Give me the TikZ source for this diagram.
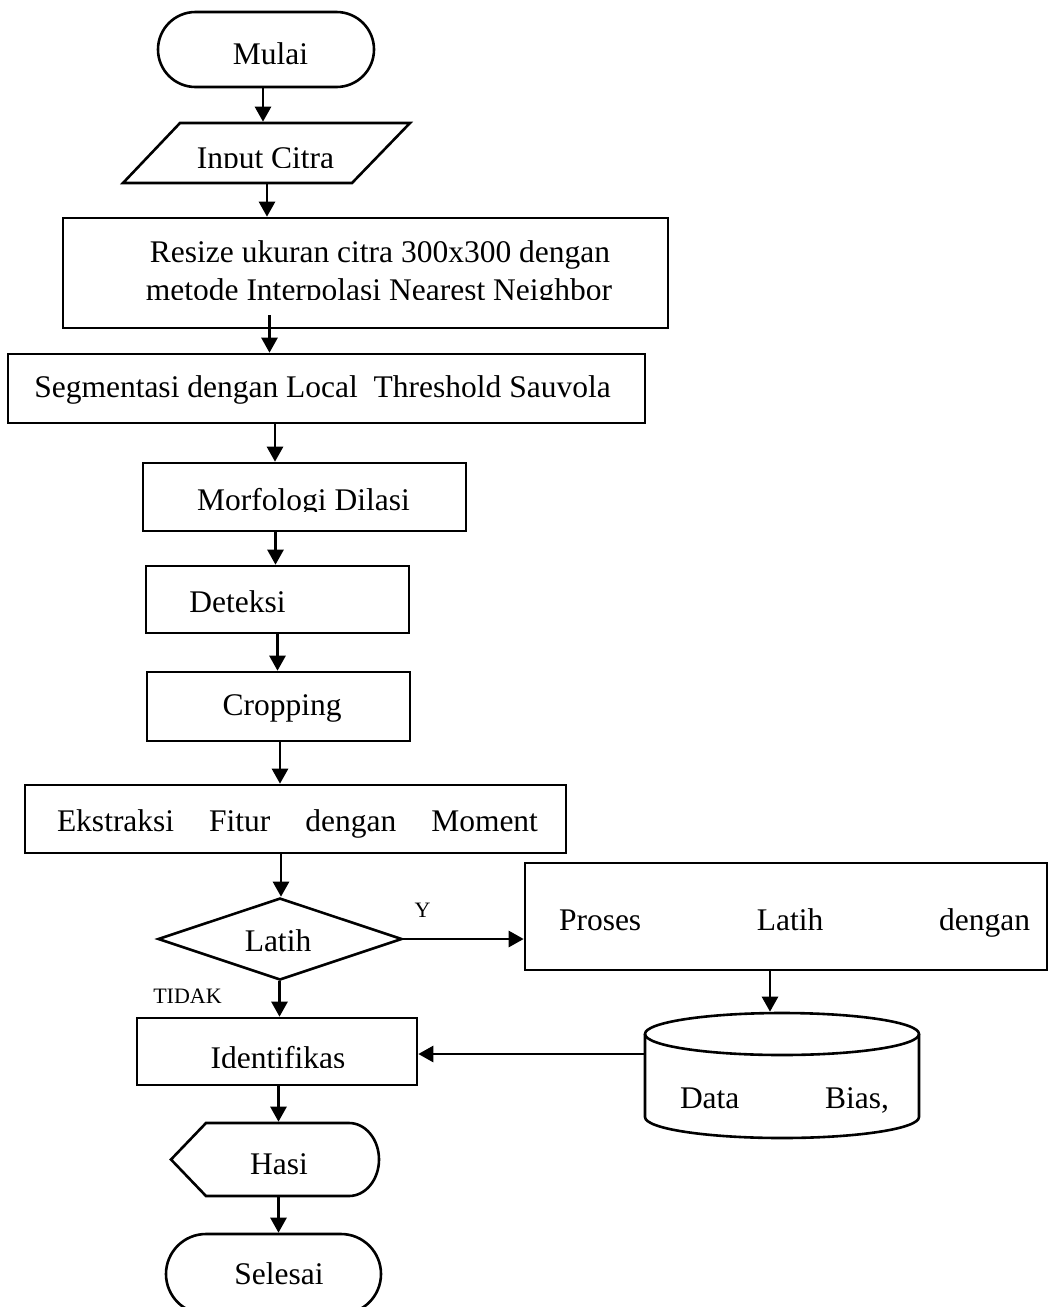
\documentclass[tikz,border=0pt]{standalone}
\usepackage{fontspec}
\setmainfont{Liberation Serif}
\usetikzlibrary{shapes.geometric,shapes.misc,arrows.meta}
\newcommand\mainfs{\fontsize{31.5}{40}\selectfont}
\newcommand\smallfs{\fontsize{22}{26}\selectfont}
\begin{document}
\begin{tikzpicture}[x=1pt,y=-1pt,
  line/.style={line width=2.6pt, line join=miter},
  box/.style={draw, line width=2.6pt, rectangle, inner sep=0pt},
  term/.style={draw, line width=2.6pt, rounded rectangle, inner sep=0pt},
  ghost/.style={rectangle, inner sep=0pt, outer sep=1.3pt},
  dec/.style={draw, line width=2.6pt, diamond, aspect=2.97, inner sep=0pt},
  lbl/.style={anchor=base, inner sep=0pt, font=\mainfs},
  small/.style={anchor=base, inner sep=0pt, font=\smallfs},
  arr/.style={line width=2.6pt, -{Triangle[length=15pt,width=16pt]}}]
\fill[white] (0,0) rectangle (1049,1307);
\useasboundingbox (0,0) rectangle (1049,1307);

% column coordinates for the vertical connectors
\coordinate (a1) at (263,0);
\coordinate (a2) at (267,0);
\coordinate (a3) at (269.5,315);
\coordinate (a4) at (275,0);
\coordinate (a5) at (275.5,0);
\coordinate (a6) at (277.5,0);
\coordinate (a7) at (280,0);
\coordinate (a8) at (281,0);
\coordinate (a9) at (279.5,0);
\coordinate (a10) at (278.5,0);
\coordinate (a11) at (278.5,0);
\coordinate (a12) at (770,0);
\coordinate (cy) at (0,1054);

% Mulai
\node[term, minimum width=216pt, minimum height=75pt] (mulai) at (266,49.5) {};
\node[lbl] (tmulai) at (270.5,64) {Mulai};

% Input Citra
\node[ghost, minimum width=230pt, minimum height=60pt] (input) at (266,153) {};
\draw[line] (180,123) -- (410,123) -- (352,183) -- (123,183) -- cycle;
\begin{scope}
  \clip (150,125) rectangle (400,167);
  \node[lbl] (tinput) at (265.5,168) {Input Citra};
\end{scope}

% Resize
\node[box, minimum width=605pt, minimum height=110pt] (resize) at (365.5,273) {};
\node[lbl] (tresizeA) at (380,262) {Resize ukuran citra 300x300 dengan};
\begin{scope}
  \clip (70,270) rectangle (660,299);
  \node[lbl] (tresizeB) at (379,300) {metode Interpolasi Nearest Neighbor};
\end{scope}

% Segmentasi
\node[box, minimum width=637pt, minimum height=69pt] (seg) at (326.5,388.5) {};
\node[lbl] (tseg) at (322.5,397) {Segmentasi dengan Local~~Threshold Sauvola};

% Morfologi
\node[box, minimum width=323pt, minimum height=68pt] (morf) at (304.5,497) {};
\begin{scope}
  \clip (150,470) rectangle (460,511);
  \node[lbl] (tmorf) at (303.5,510) {Morfologi Dilasi};
\end{scope}

% Deteksi
\node[box, minimum width=263pt, minimum height=67pt] (det) at (277.5,599.5) {};
\node[lbl] (tdet) at (237.5,612) {Deteksi};

% Cropping
\node[box, minimum width=263pt, minimum height=69pt] (crop) at (278.5,706.5) {};
\node[lbl] (tcrop) at (282,715) {Cropping};

% Ekstraksi
\node[box, minimum width=541pt, minimum height=68pt] (ekst) at (295.5,819) {};
\node[lbl] (tekst) at (297.5,831) {\makebox[481pt][s]{Ekstraksi Fitur dengan Moment}};

% Decision
\node[dec, minimum width=244pt, minimum height=82pt] (latih) at (280,939) {};
\node[lbl] (tlatih) at (278,951) {Latih};
\node[small] (ty) at (422.5,917) {Y};
\node[small] (ttidak) at (187.5,1003) {TIDAK};

% Proses Latih
\node[box, minimum width=522pt, minimum height=107pt] (proses) at (786,916.5) {};
\node[lbl] (tproses) at (794.5,930) {\makebox[471pt][s]{Proses Latih dengan}};

% Database cylinder
\node[ghost, minimum width=274pt, minimum height=125pt] (db) at (782,1075.5) {};
\draw[line] (645,1034) -- (645,1117)
  arc[start angle=180, end angle=360, x radius=137pt, y radius=21pt]
  -- (919,1034);
\draw[line] (782,1034) ellipse [x radius=137pt, y radius=21pt];
\node[lbl] (tdb) at (784.5,1108) {\makebox[209pt][s]{Data Bias,}};

% Identifikasi
\node[box, minimum width=280pt, minimum height=67pt] (ident) at (277,1051.5) {};
\begin{scope}
  \clip (145,1025) rectangle (410,1067);
  \node[lbl] (tident) at (278,1068) {Identifikas};
\end{scope}

% Hasil (display)
\node[ghost, minimum width=208pt, minimum height=73pt] (hasi) at (275,1159.5) {};
\draw[line] (171,1159.5) -- (206,1123) -- (349,1123)
  arc[start angle=90, end angle=-90, x radius=30pt, y radius=36.5pt]
  -- (206,1196) -- cycle;
\node[lbl] (thasi) at (279,1174) {Hasi};

% Selesai
\node[term, minimum width=215pt, minimum height=80pt] (selesai) at (273.5,1274) {};
\node[lbl] (tselesai) at (279,1284) {Selesai};

% connectors
\draw[arr] (mulai.south -| a1) -- (input.north -| a1);
\draw[arr] (input.south -| a2) -- (resize.north -| a2);
\draw[arr] (a3) -- (seg.north -| a3);
\draw[arr] (seg.south -| a4) -- (morf.north -| a4);
\draw[arr] (morf.south -| a5) -- (det.north -| a5);
\draw[arr] (det.south -| a6) -- (crop.north -| a6);
\draw[arr] (crop.south -| a7) -- (ekst.north -| a7);
\draw[arr] (ekst.south -| a8) -- (latih.north -| a8);
\draw[arr] (latih.east) -- (proses.west |- latih.east);
\draw[arr] (latih.south -| a9) -- (ident.north -| a9);
\draw[arr] (proses.south -| a12) -- (db.north -| a12);
\draw[arr] (db.west |- cy) -- (ident.east |- cy);
\draw[arr] (ident.south -| a10) -- (hasi.north -| a10);
\draw[arr] (hasi.south -| a11) -- (selesai.north -| a11);
\end{tikzpicture}
\end{document}
